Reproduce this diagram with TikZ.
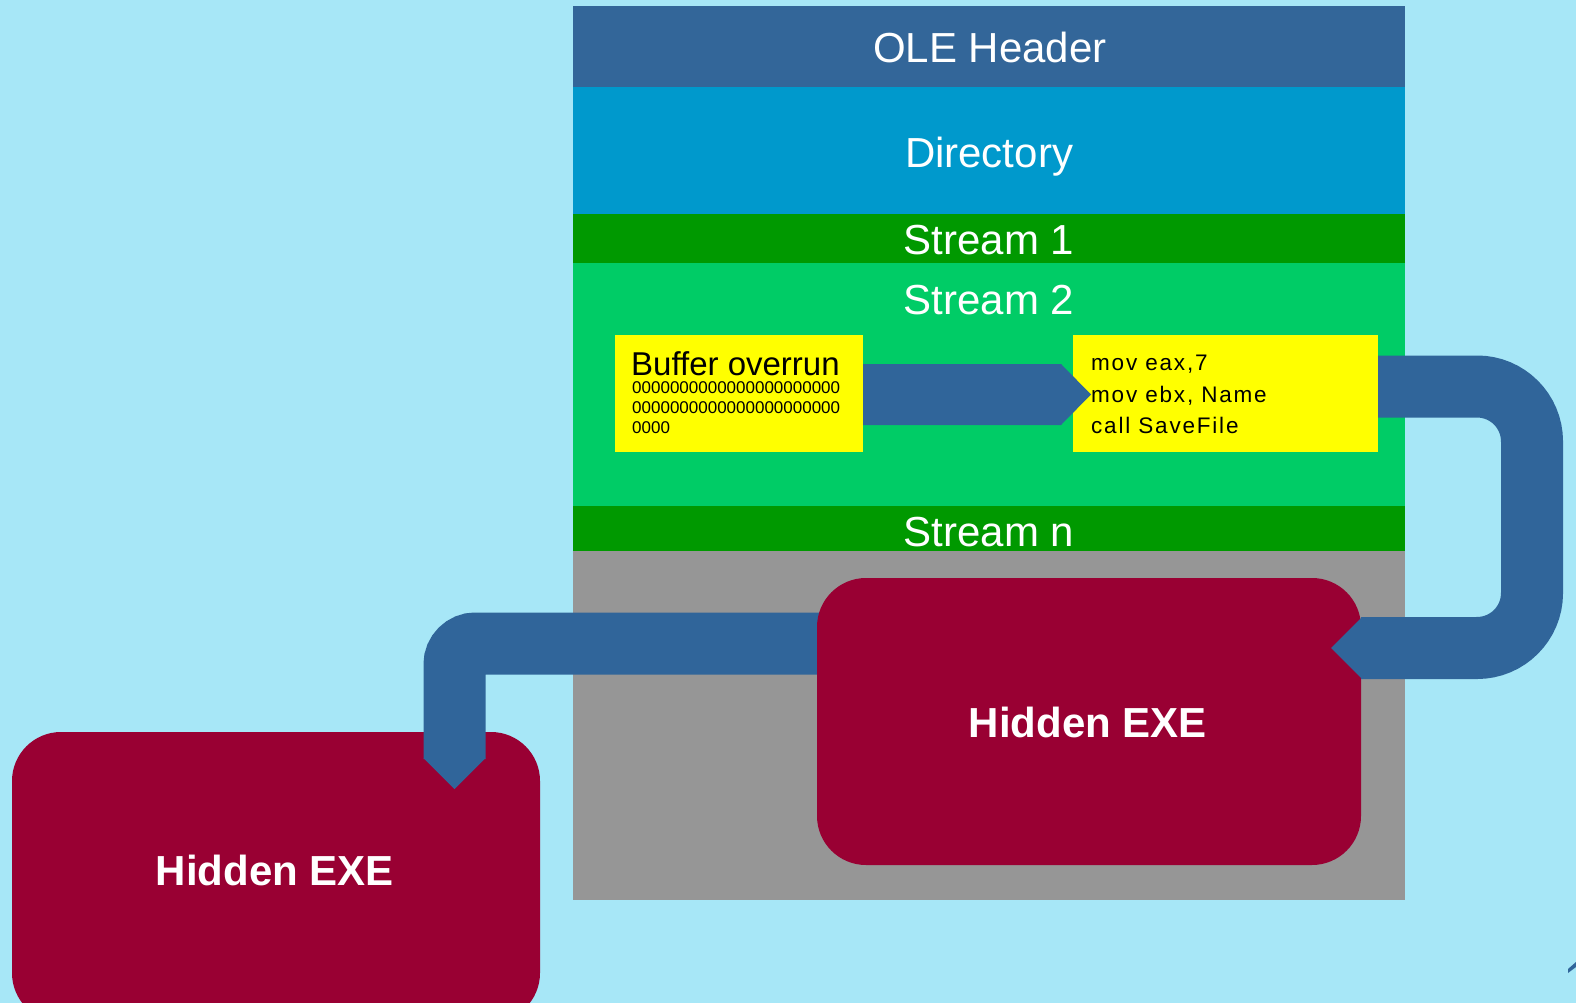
\documentclass[tikz,border=0pt]{standalone}
\usepackage{fontspec}
\setmainfont{Liberation Sans}
\newfontfamily\codefont[LetterSpace=8]{Liberation Sans}
\usetikzlibrary{calc}
\definecolor{bgblue}{HTML}{A7E7F7}
\definecolor{oleblue}{HTML}{336699}
\definecolor{arrowc}{HTML}{30659A}
\definecolor{dirblue}{HTML}{0099CC}
\definecolor{sgreen}{HTML}{009900}
\definecolor{lgreen}{HTML}{00CC66}
\definecolor{midgray}{HTML}{969696}
\definecolor{exered}{HTML}{990033}
\definecolor{ybox}{HTML}{FFFF00}
\begin{document}
\begin{tikzpicture}[x=1pt,y=-1pt,
  band/.style={draw=none,inner sep=0pt,outer sep=0pt,anchor=north west,minimum width=832pt},
  yellowbox/.style={fill=ybox,draw=none,inner sep=0pt,outer sep=0pt,anchor=north west},
  redbox/.style={fill=exered,draw=none,inner sep=0pt,outer sep=0pt,anchor=north west,rounded corners=49pt},
  bigtext/.style={text=white,font=\fontsize{42}{50}\selectfont,anchor=base,inner sep=0pt},
  exetext/.style={text=white,font=\fontsize{42}{50}\selectfont\bfseries,anchor=base,inner sep=0pt},
  buftext/.style={text=black,font=\fontsize{33}{36}\selectfont,anchor=base west,inner sep=0pt},
  zerotext/.style={text=black,font=\fontsize{17}{20}\selectfont,anchor=base west,inner sep=0pt},
  codetext/.style={text=black,font=\codefont\fontsize{22.5}{26}\selectfont,anchor=base west,inner sep=0pt},
  blockarrow/.style={draw=arrowc,line width=62pt},
]
\fill[bgblue] (0,0) rectangle (1576,1003);
\useasboundingbox (0,0) rectangle (1576,1003);

% OLE file column
\node[band,fill=oleblue,minimum height=81pt] (ole) at (573,6) {};
\node[band,fill=dirblue,minimum height=127pt] (dir) at (573,87) {};
\node[band,fill=sgreen,minimum height=49pt] (s1) at (573,214) {};
\node[band,fill=lgreen,minimum height=243pt] (s2) at (573,263) {};
\node[band,fill=sgreen,minimum height=45pt] (sn) at (573,506) {};
\node[band,fill=midgray,minimum height=349pt] (grayarea) at (573,551) {};

\node[bigtext] (tole) at (990,63) {OLE Header};
\node[bigtext] (tdir) at (989,168) {Directory};
\node[bigtext] (ts1) at (989,254) {Stream 1};
\node[bigtext] (ts2) at (989,314) {Stream 2};
\node[bigtext] (tsn) at (989,546) {Stream n};

% yellow boxes
\node[yellowbox,minimum width=248pt,minimum height=117pt] (buf) at (615,335) {};
\node[yellowbox,minimum width=305pt,minimum height=117pt] (code) at (1073,335) {};

\node[buftext] (tbuf) at (631,375) {Buffer overrun};
\node[zerotext] (z1) at (632,393) {0000000000000000000000};
\node[zerotext] (z2) at (632,413) {0000000000000000000000};
\node[zerotext] (z3) at (632,433) {0000};

\node[codetext] (c1) at (1091,370.5) {mov eax,7};
\node[codetext] (c2) at (1091,402) {mov ebx, Name};
\node[codetext] (c3) at (1091,433.5) {call SaveFile};

% arrow 1: buffer overrun -> code
\fill[arrowc] ($(buf.east)+(0,-29.5)$) -- (1061,364) -- (1091,394.5) -- (1061,425) -- ($(buf.east)+(0,31.5)$) -- cycle;

% left hidden exe
\node[redbox,minimum width=528pt,minimum height=290pt] (exe2) at (12,732) {};

% arrow 3: right exe -> left exe
\coordinate (a3s) at (880,643.5);
\coordinate (a3c) at (454.5,643.5);
\coordinate (a3e) at (454.5,759);
\draw[blockarrow,rounded corners=21pt] (a3s) -- (a3c) -- (a3e);
\fill[arrowc] (423.5,758) -- (454.5,789) -- (485.5,758) -- cycle;

% right hidden exe
\node[redbox,minimum width=544pt,minimum height=287pt] (exe1) at (817,578) {};

% arrow 2: code -> right exe
\coordinate (a2s) at (1378,386.5);
\coordinate (a2a) at (1532,386.5);
\coordinate (a2b) at (1532,648);
\coordinate (a2e) at (1361,648);
\draw[blockarrow,rounded corners=55pt] (a2s) -- (a2a) -- (a2b) -- (a2e);
\fill[arrowc] (1362,617) -- (1331,648) -- (1362,679) -- cycle;

\node[exetext] (texe1) at (1088,737) {Hidden EXE};
\node[exetext] (texe2) at (275,885) {Hidden EXE};

% small fragment at bottom right edge
\fill[arrowc] (1568,969) -- (1576,962) -- (1576,967) -- (1568,973) -- cycle;
\end{tikzpicture}
\end{document}
